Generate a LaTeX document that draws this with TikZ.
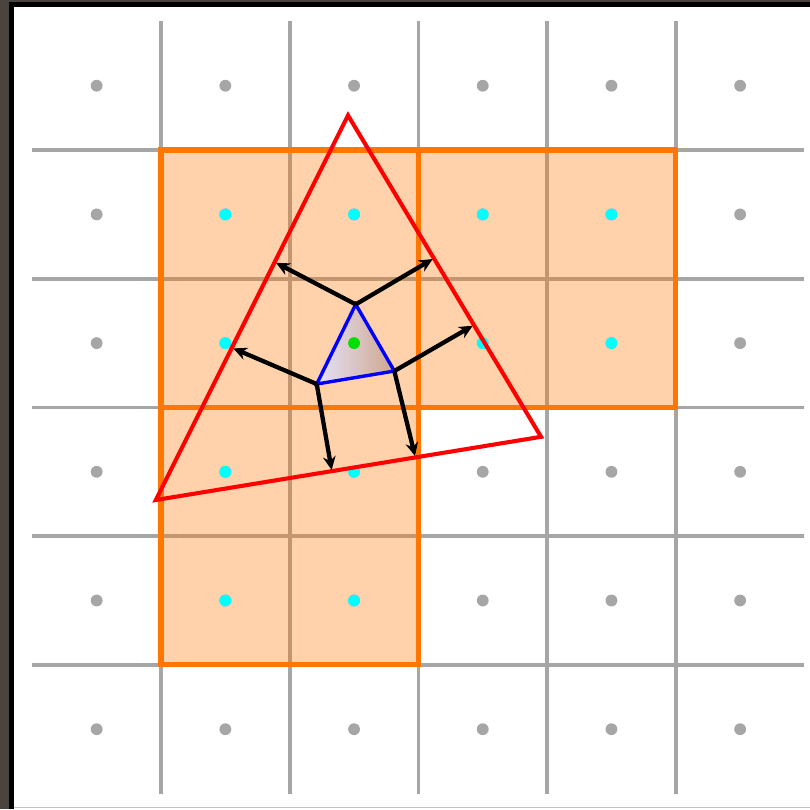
\documentclass[tikz,border=0pt]{standalone}
\usetikzlibrary{arrows.meta}
\definecolor{gridgray}{HTML}{A6A6A6}
\definecolor{blockorange}{HTML}{FF7700}
\definecolor{framebrown}{HTML}{4B443E}
\definecolor{dotgreen}{HTML}{00E000}
\definecolor{dotcyan}{HTML}{00FFFF}
\definecolor{shadeleft}{HTML}{E4E2F8}
\definecolor{shademid}{HTML}{B3A3D6}
\definecolor{shaderight}{HTML}{CFA68E}

\begin{document}
\begin{tikzpicture}[
    gridline/.style={draw=gridgray, line width=0.8pt},
    blockfill/.style={fill=blockorange, fill opacity=0.33},
    blockedge/.style={draw=blockorange, line width=1.15pt},
    sample/.style={circle, fill=#1, inner sep=0pt, minimum size=0.092cm},
    push/.style={-{Stealth[length=3pt,width=2.8pt]}, line width=0.95pt},
  ]
  \useasboundingbox (-0.251,-0.120) rectangle (6.043,6.166);
  % window frame
  \fill[framebrown] (-0.251,-0.120) rectangle (-0.181,6.166);
  \fill[black] (-0.181,-0.120) rectangle (-0.142,6.150);
  \fill[framebrown] (-0.181,6.150) rectangle (6.043,6.166);
  \fill[black] (-0.181,6.111) rectangle (6.043,6.150);
  \draw[gridgray!70, line width=0.35pt] (-0.142,-0.109) -- (6.043,-0.109);

  % grid
  \foreach \k in {1,...,5} {
    \draw[gridline] (\k,0) -- (\k,6);
    \draw[gridline] (0,\k) -- (6,\k);
  }

  % covered blocks
  \fill[blockfill] (1,3) rectangle (5,5);
  \fill[blockfill] (1,1) rectangle (3,3);
  \draw[blockedge] (1,3) rectangle (3,5);
  \draw[blockedge] (3,3) rectangle (5,5);
  \draw[blockedge] (1,1) rectangle (3,3);

  % sample points
  \foreach \i in {0,...,5}
    \foreach \j in {0,...,5}
      \node[sample=gridgray] (s\i\j) at (\i+0.5,\j+0.5) {};
  \foreach \i/\j in {1/4,2/4,3/4,4/4,1/3,3/3,4/3,1/2,2/2,1/1,2/1}
    \node[sample=dotcyan] (c\i\j) at (\i+0.5,\j+0.5) {};

  % enlarged triangle
  \coordinate (top) at (2.453,5.270);
  \coordinate (right) at (3.953,2.772);
  \coordinate (left) at (0.960,2.281);
  \draw[red, line width=0.9pt] (top) -- (right) -- (left) -- cycle;

  % small triangle
  \coordinate (t) at (2.513,3.801);
  \coordinate (r) at (2.813,3.283);
  \coordinate (l) at (2.210,3.182);
  \shade[left color=shadeleft, middle color=shademid, right color=shaderight] (t) -- (r) -- (l) -- cycle;
  \draw[blue, line width=0.75pt] (t) -- (r) -- (l) -- cycle;
  \node[sample=dotgreen] (mid) at (2.5,3.5) {};

  % offsets
  \coordinate (tl) at (1.894,4.124);
  \coordinate (tr) at (3.111,4.153);
  \coordinate (ru) at (3.422,3.635);
  \coordinate (rd) at (2.974,2.622);
  \coordinate (ld) at (2.326,2.514);
  \coordinate (lu) at (1.562,3.459);
  \draw[push] (t) -- (tl);
  \draw[push] (t) -- (tr);
  \draw[push] (r) -- (ru);
  \draw[push] (r) -- (rd);
  \draw[push] (l) -- (ld);
  \draw[push] (l) -- (lu);
\end{tikzpicture}
\end{document}
